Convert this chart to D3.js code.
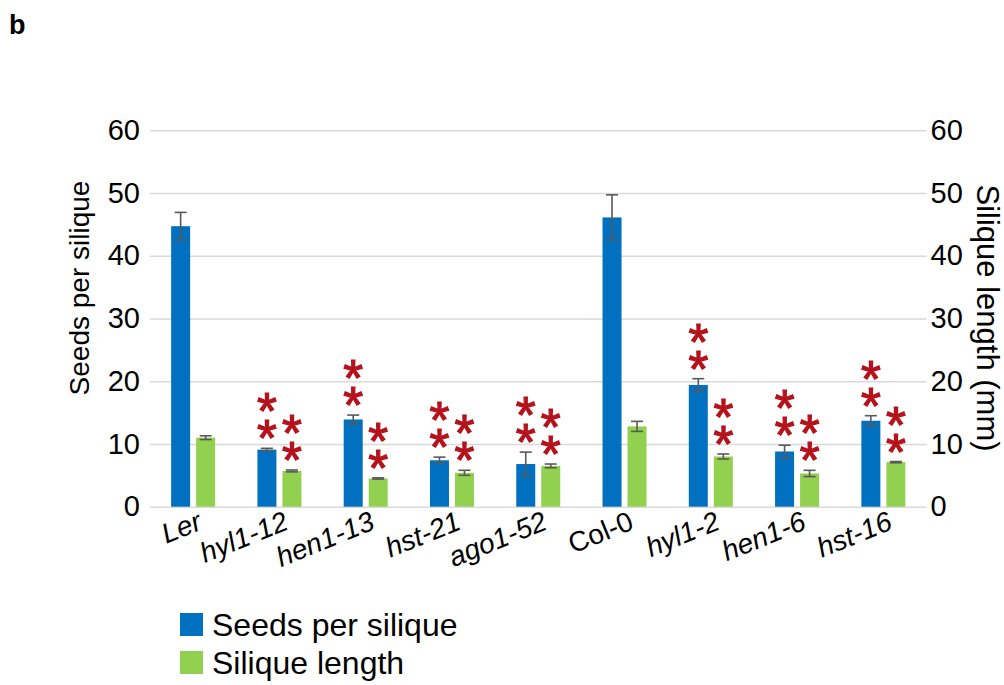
<!DOCTYPE html>
<html>
<head>
<meta charset="utf-8">
<script src="https://cdn.jsdelivr.net/npm/d3@7"></script>
<style>
  * { margin: 0; padding: 0; }
  body { background: #fff; font-family: "Liberation Sans", Arial, sans-serif; }
  svg text { font-family: "Liberation Sans", Arial, sans-serif; }
</style>
</head>
<body>
<svg id="viz"></svg>
<script>
  // genotypes on the x axis
  var categories = ["Ler", "hyl1-12", "hen1-13", "hst-21", "ago1-52", "Col-0", "hyl1-2", "hen1-6", "hst-16"];
  var italicLabel = [true, true, true, true, true, false, true, true, true];

  // seeds per silique (left axis) and silique length in mm (right axis)
  var seeds      = [44.7, 9.1, 13.9, 7.4, 6.8, 46.1, 19.4, 8.8, 13.7];
  var seedsErr   = [2.2, 0.2, 0.7, 0.5, 1.9, 3.6, 1.0, 1.0, 0.8];
  var lengths    = [11.0, 5.7, 4.5, 5.4, 6.5, 12.8, 8.0, 5.3, 7.1];
  var lengthsErr = [0.3, 0.15, 0.1, 0.4, 0.3, 0.8, 0.4, 0.5, 0.1];

  // significance marks
  var seedsSig   = ["", "**", "**", "**", "**", "", "**", "**", "**"];
  var lengthsSig = ["", "**", "**", "**", "**", "", "**", "**", "**"];

  var yTicks = [0, 10, 20, 30, 40, 50, 60];
  var seriesNames = ["Seeds per silique", "Silique length"];
  var seriesColors = ["#0070c0", "#92d050"];

  var W = 1004, H = 685;
  var plotLeft = 150, plotRight = 926.5, plotTop = 130.2, plotBottom = 506.7;

  var svg = d3.select("#viz").attr("width", W).attr("height", H);

  var x = d3.scaleBand().domain(categories).range([plotLeft, plotRight]).padding(0);
  var xs = d3.scaleBand().domain([0, 1]).range([0, 44]).paddingInner(0.24);
  var y = d3.scaleLinear().domain([0, 60]).range([plotBottom, plotTop]);

  // panel letter
  svg.append("text")
    .attr("x", 9).attr("y", 34)
    .style("font-size", "27px").style("font-weight", "bold")
    .text("b");

  // gridlines
  svg.append("g")
    .attr("transform", "translate(" + plotLeft + ",0)")
    .call(d3.axisLeft(y).tickValues(yTicks).tickSize(-(plotRight - plotLeft)).tickFormat(""))
    .call(g => g.select(".domain").remove())
    .call(g => g.selectAll("line").attr("stroke", "#d9d9d9").attr("stroke-width", 1.6));

  // left axis
  svg.append("g")
    .attr("transform", "translate(" + (plotLeft - 2) + ",0)")
    .call(d3.axisLeft(y).tickValues(yTicks).tickSize(0).tickPadding(8))
    .call(g => g.select(".domain").remove())
    .call(g => g.selectAll("text").style("font-size", "29px").attr("fill", "#000")
      .style("font-family", "Liberation Sans, Arial, sans-serif"));

  // right axis
  svg.append("g")
    .attr("transform", "translate(" + plotRight + ",0)")
    .call(d3.axisRight(y).tickValues(yTicks).tickSize(0).tickPadding(4))
    .call(g => g.select(".domain").remove())
    .call(g => g.selectAll("text").style("font-size", "29px").attr("fill", "#000")
      .style("font-family", "Liberation Sans, Arial, sans-serif"));

  // axis titles
  svg.append("text")
    .attr("transform", "translate(79,288) rotate(-90)")
    .attr("text-anchor", "middle").attr("dominant-baseline", "central")
    .style("font-size", "28px")
    .text("Seeds per silique");
  svg.append("text")
    .attr("transform", "translate(987,318) rotate(90)")
    .attr("text-anchor", "middle").attr("dominant-baseline", "central")
    .style("font-size", "31px")
    .text("Silique length (mm)");

  var series = [
    { vals: seeds, errs: seedsErr, sig: seedsSig },
    { vals: lengths, errs: lengthsErr, sig: lengthsSig }
  ];

  function barX(i, s) {
    return x(categories[i]) + (x.bandwidth() - 44) / 2 + xs(s);
  }

  series.forEach(function(ser, s) {
    var g = svg.append("g");
    var idx = d3.range(categories.length);

    g.selectAll("rect").data(idx).join("rect")
      .attr("x", i => barX(i, s))
      .attr("width", xs.bandwidth())
      .attr("y", i => y(ser.vals[i]))
      .attr("height", i => y(0) - y(ser.vals[i]))
      .attr("fill", seriesColors[s]);

    // error bars
    idx.forEach(function(i) {
      var cx = barX(i, s) + xs.bandwidth() / 2;
      var y1 = y(ser.vals[i] + ser.errs[i]), y2 = y(ser.vals[i] - ser.errs[i]);
      var eg = g.append("g").attr("stroke", "#595959").attr("stroke-width", 1.6);
      eg.append("line").attr("x1", cx).attr("x2", cx).attr("y1", y1).attr("y2", y2);
      eg.append("line").attr("x1", cx - 6).attr("x2", cx + 6).attr("y1", y1).attr("y2", y1);
      eg.append("line").attr("x1", cx - 6).attr("x2", cx + 6).attr("y1", y2).attr("y2", y2);

      // asterisks stacked above the error bar
      var n = ser.sig[i].length;
      for (var k = 0; k < n; k++) {
        var cy = y1 - 22 - k * 27;
        g.append("text")
          .attr("x", cx).attr("y", cy + 30)
          .attr("text-anchor", "middle")
          .attr("fill", "#b5121b")
          .attr("stroke", "#b5121b").attr("stroke-width", 1.2)
          .style("font-size", "51px")
          .text("*");
      }
    });
  });

  // x labels
  categories.forEach(function(c, i) {
    var cx = x(c) + x.bandwidth() / 2;
    svg.append("text")
      .attr("transform", "translate(" + (cx + 3) + ",510) rotate(-22)")
      .attr("text-anchor", "end")
      .attr("dy", "0.72em")
      .style("font-size", "28px")
      .style("font-style", italicLabel[i] ? "italic" : "normal")
      .text(c);
  });

  // legend
  var legend = svg.append("g").attr("transform", "translate(180,613)");
  seriesNames.forEach(function(name, i) {
    legend.append("rect")
      .attr("x", 0).attr("y", i * 38)
      .attr("width", 23).attr("height", 23)
      .attr("fill", seriesColors[i]);
    legend.append("text")
      .attr("x", 32).attr("y", i * 38 + 23)
      .style("font-size", "32px")
      .text(name);
  });
</script>
</body>
</html>
